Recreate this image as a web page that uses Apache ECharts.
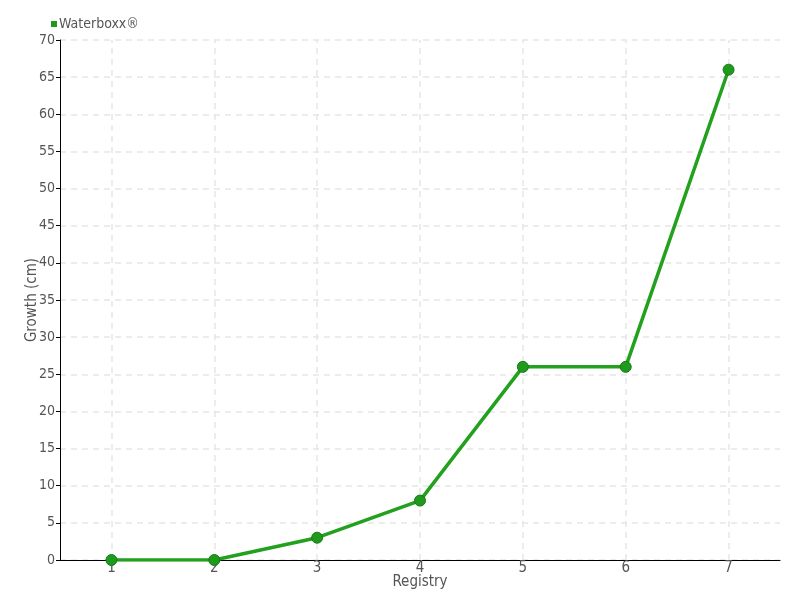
<!DOCTYPE html>
<html><head><meta charset="utf-8">
<script src="https://cdn.jsdelivr.net/npm/echarts@6/dist/echarts.min.js"></script>
<style>html,body{margin:0;padding:0;background:#fff}#c{width:800px;height:600px}</style>
</head><body><div id="c"></div>
<script>
const categories = ['1','2','3','4','5','6','7'];
const growth = [0, 0, 3, 8, 26, 26, 66];
const seriesName = 'Waterboxx®';
const font = '"Liberation Sans Narrow", "DejaVu Sans Condensed", sans-serif';
const chart = echarts.init(document.getElementById('c'));
chart.setOption({
  animation: false,
  textStyle: {fontFamily: font},
  legend: {left: 46, top: 12, itemWidth: 6, itemHeight: 6, itemGap: 4,
    icon: 'rect', itemStyle: {borderWidth: 0},
    textStyle: {fontFamily: font, fontSize: 14, color: '#555', padding: [0,0,0,-3]},
    data: [seriesName]},
  grid: {left: 60, right: 20, top: 40, bottom: 40, outerBoundsMode: 'none', containLabel: false},
  xAxis: {type: 'category', data: categories, boundaryGap: true,
    name: 'Registry', nameLocation: 'middle', nameGap: 15, nameMoveOverlap: false,
    nameTextStyle: {fontFamily: font, fontSize: 15, color: '#555'},
    axisLine: {lineStyle: {color: '#000'}},
    axisTick: {alignWithLabel: true, length: 5, inside: true, lineStyle: {color: '#000'}},
    axisLabel: {fontFamily: font, fontSize: 15, color: '#555', margin: 1},
    splitLine: {show: false}},
  yAxis: {type: 'value', min: 0, max: 70, interval: 5,
    name: 'Growth (cm)', nameLocation: 'middle', nameGap: 20, nameMoveOverlap: false,
    nameTextStyle: {fontFamily: font, fontSize: 15, color: '#555'},
    axisLine: {show: true, lineStyle: {color: '#000'}},
    axisTick: {show: true, length: 4, lineStyle: {color: '#000'}},
    axisLabel: {fontFamily: font, fontSize: 14, color: '#555', margin: 5},
    splitLine: {show: true, lineStyle: {color: '#e6e6e6', type: [6,5], width: 1.5}}},
  series: [{name: seriesName, type: 'line', data: growth,
    symbol: 'circle', symbolSize: 11, z: 3,
    lineStyle: {color: '#22a01e', width: 3.5},
    itemStyle: {color: '#1f9a1c', borderColor: '#167a14', borderWidth: 1},
    markLine: {silent: true, symbol: 'none', label: {show: false}, z: 1,
      lineStyle: {color: '#e6e6e6', type: [6,5], width: 1.5},
      data: categories.map(c => ({xAxis: c}))}}]
});
</script></body></html>
